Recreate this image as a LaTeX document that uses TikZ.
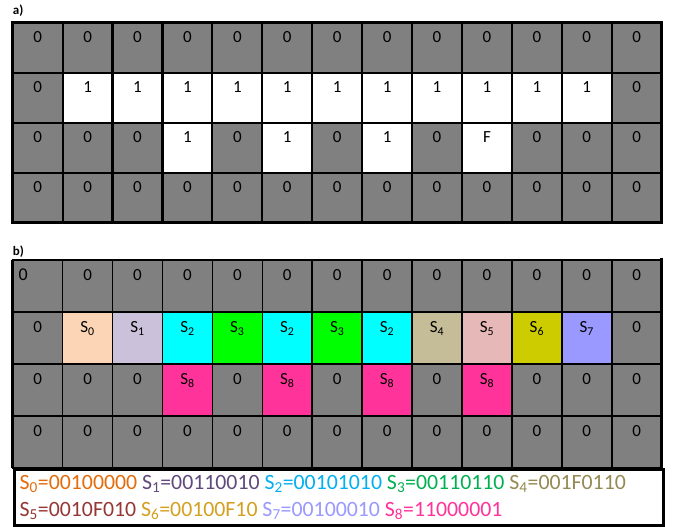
\documentclass[tikz,border=0pt]{standalone}
\usepackage{fontspec}
\setmainfont{Carlito}
\definecolor{gr}{HTML}{808080}
\definecolor{wh}{HTML}{FFFFFF}
\definecolor{fa}{HTML}{FBD5B5}
\definecolor{fb}{HTML}{CCC1DA}
\definecolor{fc}{HTML}{00FFFF}
\definecolor{fd}{HTML}{00FF00}
\definecolor{fe}{HTML}{C4BD97}
\definecolor{ff}{HTML}{E6B9B8}
\definecolor{fg}{HTML}{CCCC00}
\definecolor{fh}{HTML}{9999FF}
\definecolor{fi}{HTML}{FF3399}
\definecolor{ta}{HTML}{E46C0A}
\definecolor{tb}{HTML}{604A7B}
\definecolor{tc}{HTML}{00B0F0}
\definecolor{td}{HTML}{00B050}
\definecolor{te}{HTML}{948A54}
\definecolor{tf}{HTML}{953735}
\definecolor{tg}{HTML}{D4A020}
\definecolor{th}{HTML}{9999FF}
\definecolor{ti}{HTML}{FF3399}
\newcommand{\Sx}[1]{S\textsubscript{#1}}
\begin{document}
\begin{tikzpicture}[x=1pt,y=-1pt,
  cella/.style={draw=black,line width=2.2pt,minimum width=49.92pt,minimum height=50pt,anchor=north west,inner sep=0pt,outer sep=0pt},
  cellb/.style={draw=black,line width=1.6pt,minimum width=49.92pt,minimum height=52pt,anchor=north west,inner sep=0pt,outer sep=0pt},
  celltxt/.style={anchor=base,inner sep=0pt,font=\fontsize{17}{20}\selectfont},
  tag/.style={anchor=base west,inner sep=0pt,font=\fontsize{13}{15}\selectfont\bfseries},
  legtxt/.style={anchor=base west,inner sep=0pt,font=\fontsize{21.8}{25}\selectfont}]
\useasboundingbox (0,0) rectangle (678,527);
% ---------- a)
\node[tag] (la) at (12.7,15) {a)};
\foreach \row [count=\r from 0] in {
  {gr/0,gr/0,gr/0,gr/0,gr/0,gr/0,gr/0,gr/0,gr/0,gr/0,gr/0,gr/0,gr/0},
  {gr/0,wh/1,wh/1,wh/1,wh/1,wh/1,wh/1,wh/1,wh/1,wh/1,wh/1,wh/1,gr/0},
  {gr/0,gr/0,gr/0,wh/1,gr/0,wh/1,gr/0,wh/1,gr/0,wh/F,gr/0,gr/0,gr/0},
  {gr/0,gr/0,gr/0,gr/0,gr/0,gr/0,gr/0,gr/0,gr/0,gr/0,gr/0,gr/0,gr/0}}{
  \foreach \f/\v [count=\c from 0] in \row {
    \node[cella,fill=\f] (a-\r-\c) at ({12.7+49.92*\c},{22.7+50*\r}) {};
    \node[celltxt] (at-\r-\c) at ({12.7+49.92*\c+24.96},{22.7+50*\r+19.5}) {\v};
  }
}
\draw[line width=3pt] (a-0-0.north west) rectangle (a-3-12.south east);
% ---------- b)
\node[tag] (lb) at (12.7,255) {b)};
\foreach \row [count=\r from 0] in {
  {gr/0,gr/0,gr/0,gr/0,gr/0,gr/0,gr/0,gr/0,gr/0,gr/0,gr/0,gr/0,gr/0},
  {gr/0,fa/{\Sx{0}},fb/{\Sx{1}},fc/{\Sx{2}},fd/{\Sx{3}},fc/{\Sx{2}},fd/{\Sx{3}},fc/{\Sx{2}},fe/{\Sx{4}},ff/{\Sx{5}},fg/{\Sx{6}},fh/{\Sx{7}},gr/0},
  {gr/0,gr/0,gr/0,fi/{\Sx{8}},gr/0,fi/{\Sx{8}},gr/0,fi/{\Sx{8}},gr/0,fi/{\Sx{8}},gr/0,gr/0,gr/0},
  {gr/0,gr/0,gr/0,gr/0,gr/0,gr/0,gr/0,gr/0,gr/0,gr/0,gr/0,gr/0,gr/0}}{
  \foreach \f/\v [count=\c from 0] in \row {
    \node[cellb,fill=\f] (b-\r-\c) at ({12.7+49.92*\c},{260+52*\r}) {};
    \ifnum\r=0 \ifnum\c=0
      \node[celltxt,anchor=base west,font=\fontsize{18}{20}\selectfont] (bt-\r-\c) at (18.5,280.5) {\v};
    \else
      \node[celltxt] (bt-\r-\c) at ({12.7+49.92*\c+24.96},{260+52*\r+20.5}) {\v};
    \fi\else
      \node[celltxt] (bt-\r-\c) at ({12.7+49.92*\c+24.96},{260+52*\r+20.5}) {\v};
    \fi
  }
}
% legend box
\node[draw=black,line width=3pt,fill=white,minimum width=649pt,minimum height=56pt,anchor=north west,inner sep=0pt] (leg) at (12.7,468) {};
\draw[line width=3pt] (b-0-0.north west) -- (b-3-0.south west);
\draw[line width=3pt] ([yshift=2pt]b-0-12.north east) -- (b-3-12.south east);
\node[legtxt] (l1) at (19.5,489.5) {\textcolor{ta}{\Sx{0}=00100000} \textcolor{tb}{\Sx{1}=00110010} \textcolor{tc}{\Sx{2}=00101010} \textcolor{td}{\Sx{3}=00110110} \textcolor{te}{\Sx{4}=001F0110}};
\node[legtxt] (l2) at (19.5,516.7) {\textcolor{tf}{\Sx{5}=0010F010} \textcolor{tg}{\Sx{6}=00100F10} \textcolor{th}{\Sx{7}=00100010} \textcolor{ti}{\Sx{8}=11000001}};
\end{tikzpicture}
\end{document}
